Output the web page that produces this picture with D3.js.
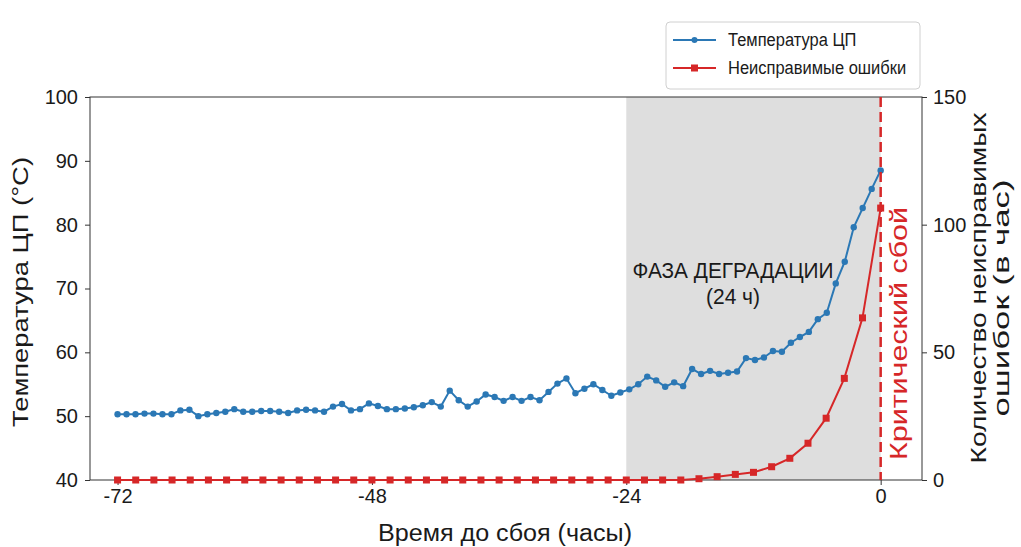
<!DOCTYPE html>
<html>
<head>
<meta charset="utf-8">
<script src="https://cdn.jsdelivr.net/npm/d3@7"></script>
<style>
  body { margin: 0; background: #fff; }
  text { font-family: "Liberation Sans", Arial, sans-serif; fill: #1a1a1a; }
</style>
</head>
<body>
<svg id="chart" width="1021" height="547"></svg>
<script>
// CPU temperature (°C), one reading every ~0.85 h from -72 h to 0
var cpuTemp = [50.3, 50.3, 50.3, 50.4, 50.4, 50.3, 50.3, 50.9, 51.0, 50.0,
               50.3, 50.5, 50.7, 51.1, 50.7, 50.7, 50.8, 50.8, 50.7, 50.5,
               50.9, 51.0, 50.9, 50.7, 51.5, 51.9, 50.9, 51.1, 52.0, 51.6,
               51.1, 51.1, 51.2, 51.4, 51.7, 52.2, 51.5, 54.0, 52.5, 51.5,
               52.3, 53.4, 53.0, 52.4, 53.0, 52.4, 53.0, 52.5, 53.8, 55.1,
               55.9, 53.6, 54.3, 55.0, 54.1, 53.2, 53.7, 54.2, 55.0, 56.2,
               55.6, 54.6, 55.3, 54.7, 57.4, 56.6, 57.1, 56.6, 56.8, 57.0,
               59.1, 58.8, 59.2, 60.2, 60.1, 61.5, 62.4, 63.2, 65.2, 66.2,
               70.8, 74.2, 79.6, 82.6, 85.6, 88.5];

// uncorrectable errors per hour, one reading every ~1.7 h
var errors = [0, 0, 0, 0, 0, 0, 0, 0, 0, 0,
              0, 0, 0, 0, 0, 0, 0, 0, 0, 0,
              0, 0, 0, 0, 0, 0, 0, 0, 0, 0,
              0, 0, 0.5, 1.3, 2.2, 3.0, 5.2, 8.5, 14.4, 24.2,
              39.8, 63.5, 106.5];

var xTicks = [-72, -48, -24, 0];
var tempTicks = [40, 50, 60, 70, 80, 90, 100];
var errTicks = [0, 50, 100, 150];

var blue = "#2b78b5", red = "#d62728";

var svg = d3.select("#chart");

var margin = { left: 90, right: 922, top: 97, bottom: 480 };

var x = d3.scaleLinear().domain([-74.6, 3.9]).range([margin.left, margin.right]);
var yT = d3.scaleLinear().domain([40, 100]).range([margin.bottom, margin.top]);
var yE = d3.scaleLinear().domain([0, 150]).range([margin.bottom, margin.top]);

function hourAt(i, n) { return -72 + i * 72 / (n - 1); }

// degradation phase shading
svg.append("rect")
   .attr("x", x(-24))
   .attr("y", margin.top)
   .attr("width", x(0) - x(-24))
   .attr("height", margin.bottom - margin.top)
   .attr("fill", "#dedede");

// axes
var axisB = d3.axisBottom(x).tickValues(xTicks).tickSize(5).tickPadding(2)
              .tickFormat(function(d) { return d < 0 ? "-" + Math.abs(d) : d; });
var axisL = d3.axisLeft(yT).tickValues(tempTicks).tickSize(5).tickPadding(7);
var axisR = d3.axisRight(yE).tickValues(errTicks).tickSize(5).tickPadding(6);

function styleAxis(g) {
  g.select(".domain").remove();
  g.selectAll("line").attr("stroke", "#333");
  g.selectAll("text").style("font-size", "20px").attr("fill", "#1a1a1a");
}

svg.append("g").attr("transform", "translate(0," + margin.bottom + ")").call(axisB).call(styleAxis)
   .selectAll("text").attr("dy", "0.8em");
svg.append("g").attr("transform", "translate(" + margin.left + ",0)").call(axisL).call(styleAxis);
svg.append("g").attr("transform", "translate(" + margin.right + ",0)").call(axisR).call(styleAxis);

// frame
svg.append("rect")
   .attr("x", margin.left).attr("y", margin.top)
   .attr("width", margin.right - margin.left)
   .attr("height", margin.bottom - margin.top)
   .attr("fill", "none").attr("stroke", "#333").attr("stroke-width", 1);

// temperature line
var tempLine = d3.line()
  .x(function(d, i) { return x(hourAt(i, cpuTemp.length)); })
  .y(function(d) { return yT(d); });

svg.append("path").datum(cpuTemp)
   .attr("d", tempLine).attr("fill", "none")
   .attr("stroke", blue).attr("stroke-width", 2);

svg.selectAll(".tdot").data(cpuTemp).enter().append("circle")
   .attr("class", "tdot")
   .attr("cx", function(d, i) { return x(hourAt(i, cpuTemp.length)); })
   .attr("cy", function(d) { return yT(d); })
   .attr("r", 3.2)
   .attr("fill", blue);

// error line
var errLine = d3.line()
  .x(function(d, i) { return x(hourAt(i, errors.length)); })
  .y(function(d) { return yE(d); });

svg.append("path").datum(errors)
   .attr("d", errLine).attr("fill", "none")
   .attr("stroke", red).attr("stroke-width", 2);

svg.selectAll(".edot").data(errors).enter().append("rect")
   .attr("class", "edot")
   .attr("x", function(d, i) { return x(hourAt(i, errors.length)) - 3.5; })
   .attr("y", function(d) { return yE(d) - 3.5; })
   .attr("width", 7).attr("height", 7)
   .attr("fill", red);

// failure line
svg.append("line")
   .attr("x1", x(0)).attr("x2", x(0))
   .attr("y1", margin.top).attr("y2", margin.bottom)
   .attr("stroke", red).attr("stroke-width", 2.5)
   .attr("stroke-dasharray", "10,5");

// text helper: fixed width, slightly tall glyphs like the source picture
function label(tx, ty, rot, size, len, anchor, str, color) {
  var t = svg.append("text")
     .attr("transform", "translate(" + tx + "," + ty + ") scale(1,1.1)" + (rot ? " rotate(" + rot + ")" : ""))
     .attr("text-anchor", anchor)
     .attr("textLength", len)
     .attr("lengthAdjust", "spacingAndGlyphs")
     .style("font-size", size + "px")
     .text(str);
  if (color) t.style("fill", color);
  return t;
}

// annotations
label(733, 278, 0, 20, 201, "middle", "ФАЗА ДЕГРАДАЦИИ");
label(733, 304, 0, 20, 54, "middle", "(24 ч)");
label(907, 460, -90, 23, 253 / 1.1, "start", "Критический сбой", red);

// axis titles
label(505, 541, 0, 22, 254, "middle", "Время до сбоя (часы)");
label(28, 292, -90, 22, 270 / 1.1, "middle", "Температура ЦП (°C)");
label(986, 288, -90, 22, 351 / 1.1, "middle", "Количество неисправимых");
label(1009, 298, -90, 22, 237 / 1.1, "middle", "ошибок (в час)");

// legend
var legend = svg.append("g").attr("transform", "translate(666,22)");
legend.append("rect")
   .attr("width", 254).attr("height", 67).attr("rx", 4)
   .attr("fill", "#fff").attr("stroke", "#d0d0d0");

var legendItems = [
  { label: "Температура ЦП", color: blue, shape: "circle" },
  { label: "Неисправимые ошибки", color: red, shape: "square" }
];

legendItems.forEach(function(item, i) {
  var g = legend.append("g").attr("transform", "translate(0," + (18 + i * 28) + ")");
  g.append("line").attr("x1", 7).attr("x2", 50).attr("y1", 0).attr("y2", 0)
   .attr("stroke", item.color).attr("stroke-width", 2);
  if (item.shape === "circle") {
    g.append("circle").attr("cx", 28.5).attr("cy", 0).attr("r", 3).attr("fill", item.color);
  } else {
    g.append("rect").attr("x", 25).attr("y", -3.5).attr("width", 7).attr("height", 7).attr("fill", item.color);
  }
  g.append("text").attr("x", 62).attr("y", 6)
   .attr("transform", "translate(0,6) scale(1,1.1) translate(0,-6)")
   .style("font-size", "16.5px")
   .text(item.label);
});
</script>
</body>
</html>
